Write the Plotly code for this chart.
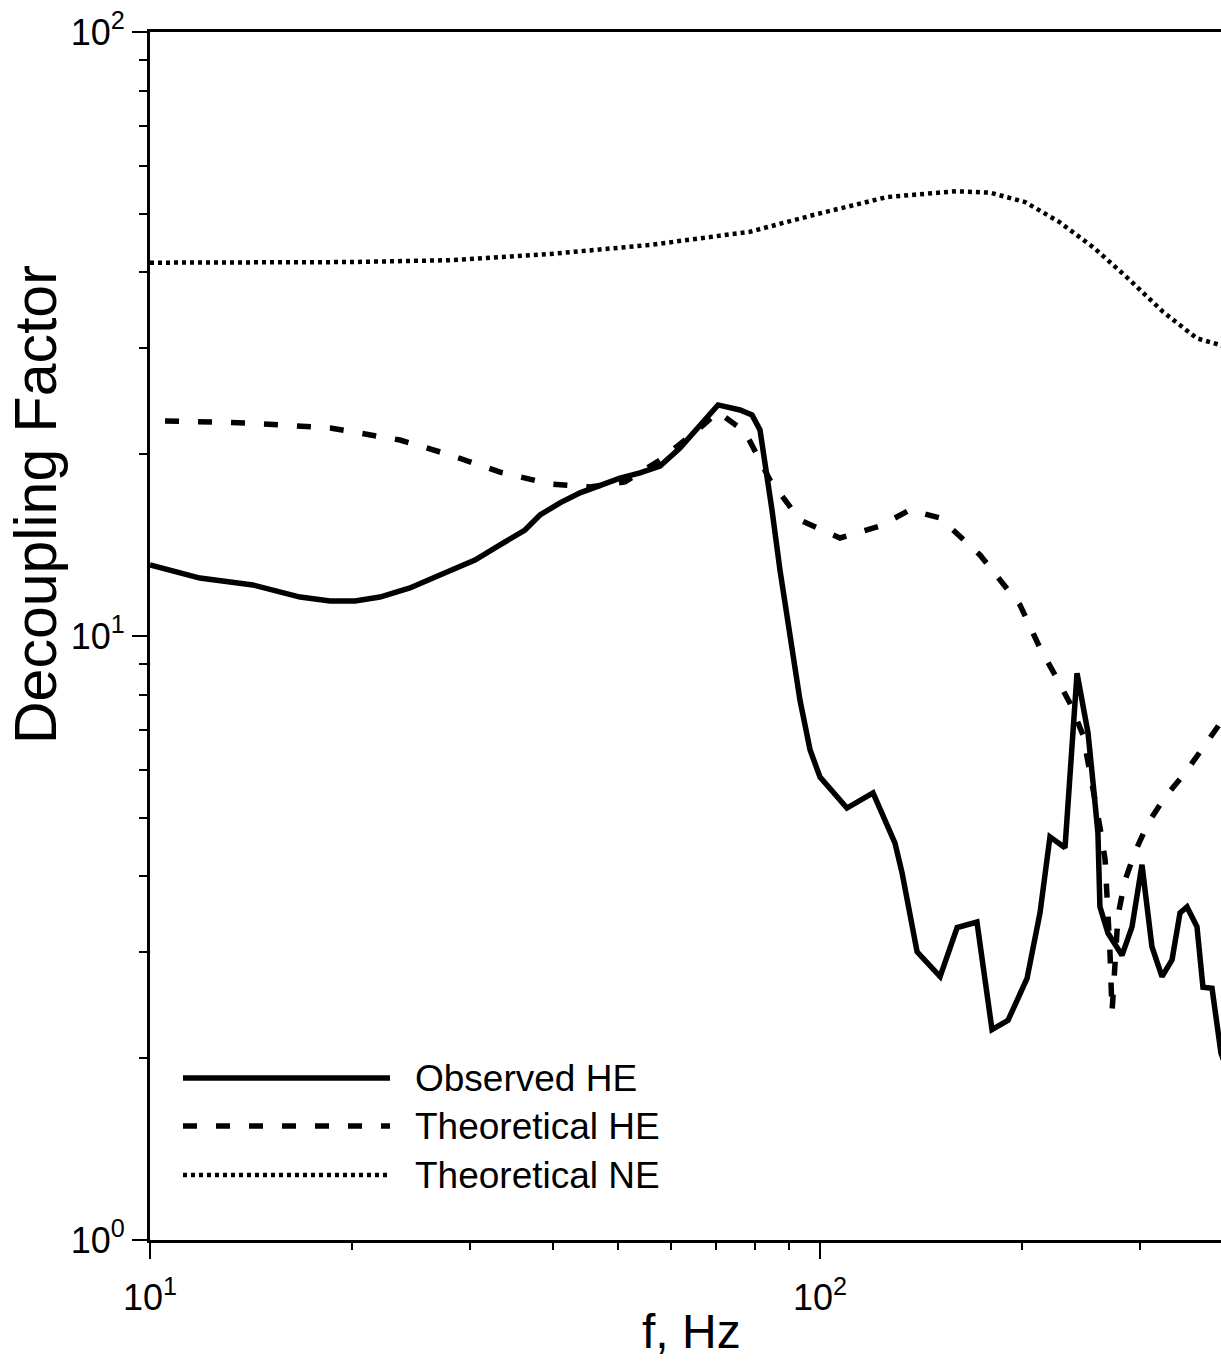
import plotly.graph_objects as go

# ---------------- data ----------------
obs_f = [10.0, 11.87, 14.24, 16.75, 18.57, 20.23, 22.04, 24.43, 27.09, 30.55, 33.30, 36.28,
         38.2, 40.92, 43.84, 46.95, 50.29, 53.87, 57.7, 61.8, 66.2, 70.44, 75.96, 79.16,
         81.36, 82.77, 84.79, 87.15, 90.2, 93.35, 96.63, 100.0, 109.7, 120.0, 129.4, 132.6,
         139.6, 151.1, 160.2, 171.5, 180.6, 190.8, 203.7, 213.0, 220.4, 232.1, 241.9, 251.2,
         255.6, 259.9, 261.7, 269.1, 282.3, 292.2, 302.4, 312.9, 323.9, 335.3, 344.6, 353.0,
         365.3, 372.9, 384.7, 396.7, 410.0]
obs_v = [13.11, 12.47, 12.15, 11.60, 11.43, 11.43, 11.60, 12.01, 12.62, 13.36, 14.15, 14.98,
         15.86, 16.61, 17.26, 17.78, 18.26, 18.62, 19.12, 20.48, 22.36, 24.13, 23.67, 23.22,
         21.94, 19.56, 16.17, 12.86, 9.85, 7.83, 6.48, 5.84, 5.19, 5.50, 4.54, 4.05,
         3.00, 2.73, 3.29, 3.36, 2.23, 2.31, 2.71, 3.48, 4.65, 4.46, 8.68, 6.91,
         5.71, 4.72, 3.56, 3.22, 2.96, 3.30, 4.18, 3.06, 2.73, 2.91, 3.48, 3.56,
         3.30, 2.62, 2.61, 2.04, 1.85]

the_he_f = [10.53, 14.1, 18.57, 23.61, 28.04, 33.30, 39.54, 45.37, 51.17, 57.70, 66.20, 70.44,
            77.3, 84.2, 93.35, 107.1, 122.9, 136.2, 151.1, 173.3, 198.9, 213.0, 224.2, 236.1,
            246.9, 257.3, 261.7, 266.4, 268.2, 270.0, 270.9, 272.8, 275.6, 278.5, 285.3, 295.2,
            308.8, 327.3, 350.6, 372.9, 396.7, 410.0]
the_he_v = [22.70, 22.52, 22.10, 21.11, 19.94, 18.68, 17.85, 17.65, 17.99, 19.56, 22.10, 23.49,
            21.77, 18.13, 15.56, 14.53, 15.21, 16.17, 15.68, 13.62, 11.25, 9.55, 8.62, 7.74,
            6.86, 5.41, 4.83, 4.26, 3.80, 3.35, 2.99, 2.385, 3.02, 3.45, 3.94, 4.39,
            4.90, 5.41, 5.93, 6.55, 7.20, 7.5]

the_ne_f = [10.0, 14.1, 19.9, 28.0, 39.5, 55.7, 78.6, 99.3, 125.9, 159.6, 179.4, 202.3,
            227.4, 256.5, 288.2, 325.1, 365.3, 396.8, 410.0]
the_ne_v = [41.5, 41.5, 41.6, 41.9, 42.9, 44.4, 46.7, 50.0, 53.3, 54.5, 54.2, 52.3,
            48.5, 43.9, 39.1, 34.4, 31.1, 30.3, 29.6]

series_names = ["Observed HE", "Theoretical HE", "Theoretical NE"]
x_tick_vals = [10, 100]
x_tick_text = ["10<sup>1</sup>", "10<sup>2</sup>"]
y_tick_vals = [1, 10, 100]
y_tick_text = ["10<sup>0</sup>", "10<sup>1</sup>", "10<sup>2</sup>"]

# ---------------- styling ----------------
FONT = "Liberation Sans, Arial, Helvetica, sans-serif"
styles = [
    dict(color="black", width=5.5, dash="solid"),
    dict(color="black", width=5.5, dash="14px,19px"),
    dict(color="black", width=4.5, dash="4px,4px"),
]

fig = go.Figure()
for name, fx, fy, st in zip(series_names,
                            [obs_f, the_he_f, the_ne_f],
                            [obs_v, the_he_v, the_ne_v], styles):
    fig.add_trace(go.Scatter(x=fx, y=fy, mode="lines", name=name, line=st,
                             showlegend=False))

minor_x = [v * m for v in (10, 100) for m in range(2, 10)]
minor_y = [v * m for v in (1, 10) for m in range(2, 10)]

fig.update_xaxes(
    type="log", range=[1, 2.5985],
    showline=True, linecolor="black", linewidth=3, mirror=True,
    showgrid=False, zeroline=False,
    ticks="outside", ticklen=16, tickwidth=2, tickcolor="black",
    tickvals=x_tick_vals, ticktext=x_tick_text,
    tickfont=dict(family=FONT, size=36, color="black"),
    ticklabelstandoff=8,
    minor=dict(ticks="outside", ticklen=7, tickwidth=2, tickcolor="black",
               tickvals=minor_x, showgrid=False),
)
fig.update_yaxes(
    type="log", range=[0, 2],
    showline=True, linecolor="black", linewidth=3, mirror=False,
    showgrid=False, zeroline=False,
    ticks="outside", ticklen=15, tickwidth=2, tickcolor="black",
    tickvals=y_tick_vals, ticktext=y_tick_text,
    tickfont=dict(family=FONT, size=36, color="black"),
    ticklabelstandoff=0,
    minor=dict(ticks="outside", ticklen=8, tickwidth=2, tickcolor="black",
               tickvals=minor_y, showgrid=False),
)

# axis titles
fig.add_annotation(text="f, Hz", xref="paper", yref="paper",
                   x=(691 - 150) / 1071, y=(1240 - 1331) / 1208,
                   xanchor="center", yanchor="middle", showarrow=False,
                   font=dict(family=FONT, size=48, color="black"))
fig.add_annotation(text="Decoupling Factor", xref="paper", yref="paper",
                   x=(36 - 150) / 1071, y=(1240 - 505) / 1208, textangle=-90,
                   xanchor="center", yanchor="middle", showarrow=False,
                   font=dict(family=FONT, size=59, color="black"))

# manual legend
leg_rows_px = [1078, 1126, 1175]
for name, st, ypx in zip(series_names, styles, leg_rows_px):
    yp = (1240 - ypx) / 1208
    fig.add_shape(type="line", xref="paper", yref="paper",
                  x0=(183 - 150) / 1071, x1=(390 - 150) / 1071, y0=yp, y1=yp,
                  line=st)
    fig.add_annotation(text=name, xref="paper", yref="paper",
                       x=(413 - 150) / 1071, y=yp, xanchor="left", yanchor="middle",
                       showarrow=False,
                       font=dict(family=FONT, size=37, color="black"))

fig.update_layout(
    width=1221, height=1363,
    margin=dict(l=150, r=0, t=32, b=123),
    paper_bgcolor="white", plot_bgcolor="white",
    showlegend=False,
)

fig.write_html("out.html")
